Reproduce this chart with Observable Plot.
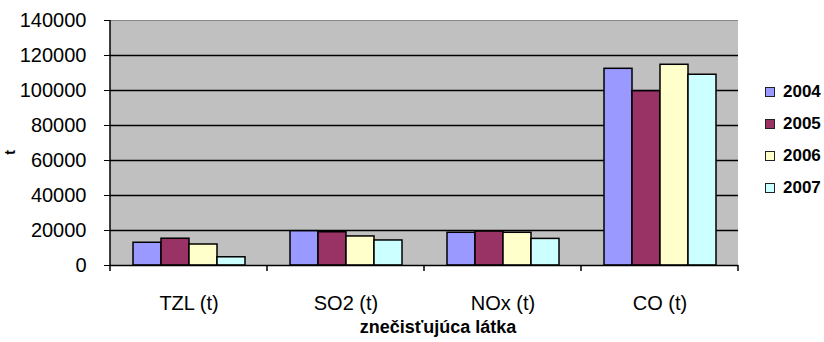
<!DOCTYPE html>
<html>
<head>
<meta charset="utf-8">
<script src="https://cdn.jsdelivr.net/npm/d3@7"></script>
<script src="https://cdn.jsdelivr.net/npm/@observablehq/plot@0.6"></script>
<style>
  body { margin: 0; background: #fff; font-family: "Liberation Sans", Arial, sans-serif; }
  #wrap { position: relative; width: 824px; height: 342px; }
  #legend { position: absolute; left: 765px; top: 76px; }
  .item { display: flex; align-items: center; height: 32px; }
  .sw { width: 8px; height: 8px; border: 1px solid #222; margin-right: 8px; }
  .lab { font-weight: bold; font-size: 17px; color: #000; }
</style>
</head>
<body>
<div id="wrap"><div id="legend"></div></div>
<script>
const categories = ["TZL (t)", "SO2 (t)", "NOx (t)", "CO (t)"];
const years = ["2004", "2005", "2006", "2007"];
const v2004 = [13000, 19600, 18700, 112400];
const v2005 = [15300, 19000, 19400, 99600];
const v2006 = [12000, 16600, 18700, 114700];
const v2007 = [4700, 14300, 15200, 109000];
const colors = ["#9999FF", "#993366", "#FFFFCC", "#CCFFFF"];
const yTicks = [0, 20000, 40000, 60000, 80000, 100000, 120000, 140000];
const xTitle = "znečisťujúca látka";
const yTitle = "t";

const series = [v2004, v2005, v2006, v2007];
const data = [];
categories.forEach((c, i) => years.forEach((y, j) => data.push({cat: c, year: y, value: series[j][i]})));

const plot = Plot.plot({
  width: 824, height: 342,
  marginLeft: 110, marginRight: 86, marginTop: 20, marginBottom: 77,
  style: {fontFamily: "'Liberation Sans', Arial, sans-serif", fontSize: "20px", color: "#000", background: "#fff", overflow: "visible"},
  fx: {domain: categories, padding: 0},
  x: {domain: years, paddingInner: 0, paddingOuter: 0.73, axis: null},
  y: {domain: [0, 140000]},
  color: {domain: years, range: colors},
  marks: [
    Plot.ruleY(yTicks.slice(1, -1), {stroke: "#000", strokeWidth: 1.3}),
    Plot.ruleY([yTicks[yTicks.length - 1]], {stroke: "#888", strokeWidth: 1}),
    Plot.barY(data, {fx: "cat", x: "year", y: "value", fill: "year", stroke: "#000", strokeWidth: 1.5, inset: 0}),
    Plot.ruleY([0], {stroke: "#000", strokeWidth: 1.5}),
    Plot.axisY({ticks: yTicks, tickSize: 6, tickPadding: 18, fontSize: 20, label: null, tickFormat: d => String(d), stroke: "#000"}),
    Plot.axisFx({anchor: "bottom", tickSize: 0, tickPadding: 30, fontSize: 20, label: null})
  ]
});

document.getElementById("wrap").prepend(plot);

// background, axis line and category boundary ticks from the library's scales
const fx = plot.scale("fx");
const ys = plot.scale("y");
const svg = d3.select(plot);
const y0 = ys.apply(0), yTop = ys.apply(140000);
const xL = fx.apply(categories[0]);
const xR = fx.apply(categories[categories.length - 1]) + fx.bandwidth;
svg.insert("rect", ":first-child").attr("x", xL).attr("y", yTop).attr("width", xR - xL).attr("height", y0 - yTop)
  .attr("fill", "#C0C0C0");
svg.append("line").attr("x1", xL).attr("x2", xL).attr("y1", y0).attr("y2", yTop)
  .attr("stroke", "#000").attr("stroke-width", 1.5);
const bounds = categories.map(c => fx.apply(c)).concat([xR]);
bounds.forEach(b => {
  svg.append("line").attr("x1", b).attr("x2", b).attr("y1", y0).attr("y2", y0 + 6)
    .attr("stroke", "#000").attr("stroke-width", 1.5);
});
const xc = (xL + xR) / 2;
svg.append("text").attr("x", xc + 14).attr("y", 333).attr("text-anchor", "middle")
  .attr("font-weight", "bold").attr("font-size", 18).attr("fill", "#000")
  .attr("font-family", "'Liberation Sans', Arial, sans-serif").text(xTitle);
svg.append("text").attr("transform", `translate(15,${(y0 + yTop) / 2 + 10}) rotate(-90)`)
  .attr("text-anchor", "middle").attr("font-weight", "bold").attr("font-size", 14).attr("fill", "#000")
  .attr("font-family", "'Liberation Sans', Arial, sans-serif").text(yTitle);

// legend
const legend = d3.select("#legend");
years.forEach((y, i) => {
  const it = legend.append("div").attr("class", "item");
  it.append("div").attr("class", "sw").style("background", colors[i]);
  it.append("span").attr("class", "lab").text(y);
});
</script>
</body>
</html>
